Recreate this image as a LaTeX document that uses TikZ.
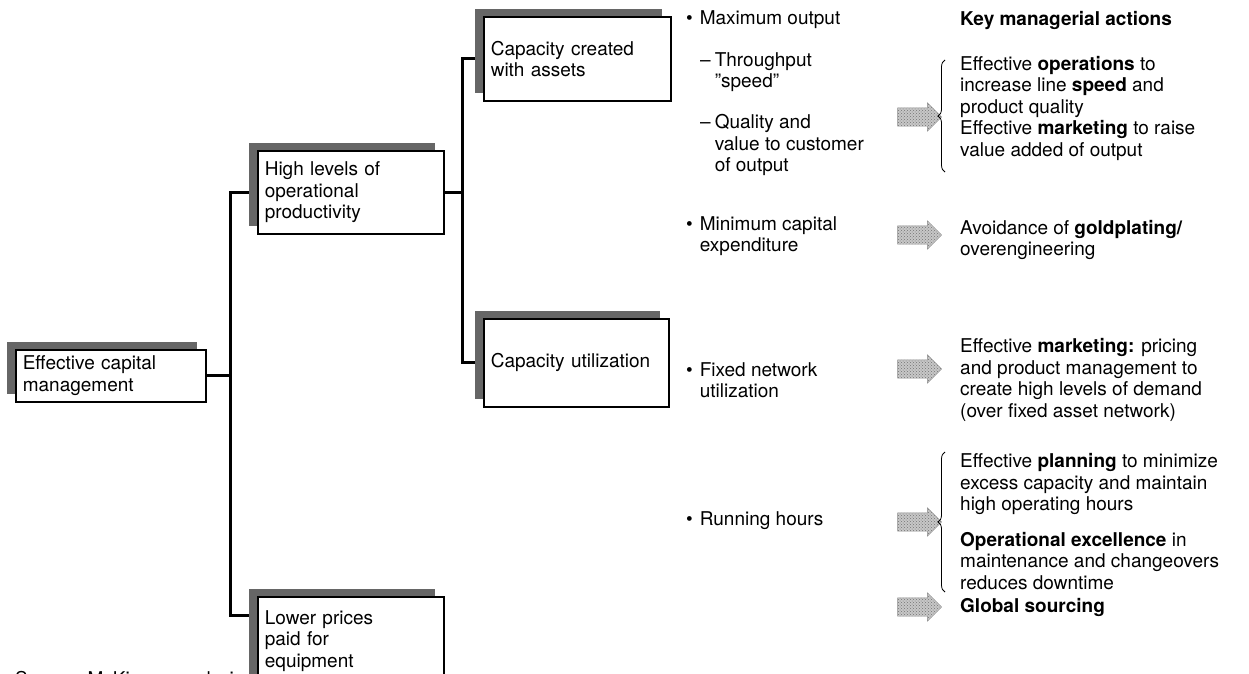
\documentclass[tikz,border=0pt]{standalone}
\usepackage{fontspec}
\setmainfont{TeX Gyre Heros}
\usetikzlibrary{shapes.arrows,shadows,decorations.pathreplacing,backgrounds,patterns}

\newcommand{\bulx}{\textbullet\hspace{7pt}}
\newcommand{\bulind}{\hphantom{\bulx}}
\newcommand{\dashx}{--\hspace{4pt}}
\newcommand{\dashind}{\hphantom{\dashx}}

\tikzset{
  box/.style={draw, line width=1.6pt, fill=white, anchor=north west, align=left,
    text width=#1, inner xsep=7pt,
    drop shadow={shadow xshift=-9pt, shadow yshift=8pt, fill=black!60, opacity=1}},
  link/.style={line width=3pt, line join=miter},
  txt/.style={anchor=west, align=left, inner sep=0pt},
  goarrow/.style={single arrow, draw=black!45, preaction={fill=black!22},
    pattern=crosshatch dots, pattern color=black!55, inner sep=9pt,
    minimum height=44pt, single arrow head extend=5pt},
  brace/.style={decorate, decoration={brace, amplitude=7pt}, line width=0.8pt}
}

\begin{document}
\begin{tikzpicture}[x=1pt, y=-1pt, font=\fontsize{19}{21.5}\selectfont]
	\useasboundingbox (0,0) rectangle (1249,673);

	\node[box=176pt, minimum height=52pt] (ecm) at (15,349) {Effective capital\\management};
	\node[box=172pt, minimum height=83pt] (hlp) at (257,150) {High levels of\\operational\\productivity};
	\node[box=173pt, minimum height=84pt] (cca) at (483,16) {Capacity created\\with assets};
	\node[box=171pt, minimum height=88pt] (cu) at (483,318) {Capacity utilization};
	\node[box=172pt, minimum height=88pt] (lpe) at (257,596) {Lower prices\\paid for\\equipment};

	\begin{scope}[on background layer]
		\path (ecm.east) ++(24,0) coordinate (j1);
		\path (hlp.east) ++(18,0) coordinate (j2);
		\draw[link] (ecm.east) -- (j1);
		\draw[link] (hlp.west) -| (j1) |- ([yshift=-19pt]lpe.north west);
		\draw[link] (hlp.east) -- (j2);
		\draw[link] (cca.west) -| (j2) |- (cu.west);
	\end{scope}

	\node[txt] (mo) at (686,20) {\bulx Maximum output};
	\node[txt] (tp) at (700,72) {\dashx Throughput\\\dashind \symbol{34}speed\symbol{34}};
	\node[txt] (qv) at (700,145) {\dashx Quality and\\\dashind value to customer\\\dashind of output};
	\node[txt] (mc) at (686,236) {\bulx Minimum capital\\\bulind expenditure};
	\node[txt] (fn) at (686,380) {\bulx Fixed network\\\bulind utilization};
	\node[txt] (rh) at (686,521) {\bulx Running hours};

	\node[goarrow] (a1) at (915,117) {};
	\node[goarrow] (a2) at (915,235) {};
	\node[goarrow] (a3) at (915,369) {};
	\node[goarrow] (a4) at (915,522) {};
	\node[goarrow] (a5) at (915,607) {};

	\coordinate (br1t) at (945,60);
	\coordinate (br1b) at (945,172);
	\coordinate (br2t) at (945,452);
	\coordinate (br2b) at (945,592);
	\draw[brace] (br1b) -- (br1t);
	\draw[brace] (br2b) -- (br2t);

	\node[txt] (kma) at (960,20) {\textbf{Key managerial actions}};
	\node[txt] (ops) at (960,108) {Effective \textbf{operations} to\\increase line \textbf{speed} and\\product quality\\Effective \textbf{marketing} to raise\\value added of output};
	\node[txt] (gold) at (960,240) {Avoidance of \textbf{goldplating/}\\overengineering};
	\node[txt] (mkt) at (960,380) {Effective \textbf{marketing:} pricing\\and product management to\\create high levels of demand\\(over fixed asset network)};
	\node[txt] (plan) at (960,484) {Effective \textbf{planning} to minimize\\excess capacity and maintain\\high operating hours};
	\node[txt] (opex) at (960,561) {\textbf{Operational excellence} in\\maintenance and changeovers\\reduces downtime};
	\node[txt] (gs) at (960,607) {\textbf{Global sourcing}};

	\node[anchor=base west, inner sep=0pt] (src) at (15,685) {Source: McKinsey analysis};
\end{tikzpicture}
\end{document}
